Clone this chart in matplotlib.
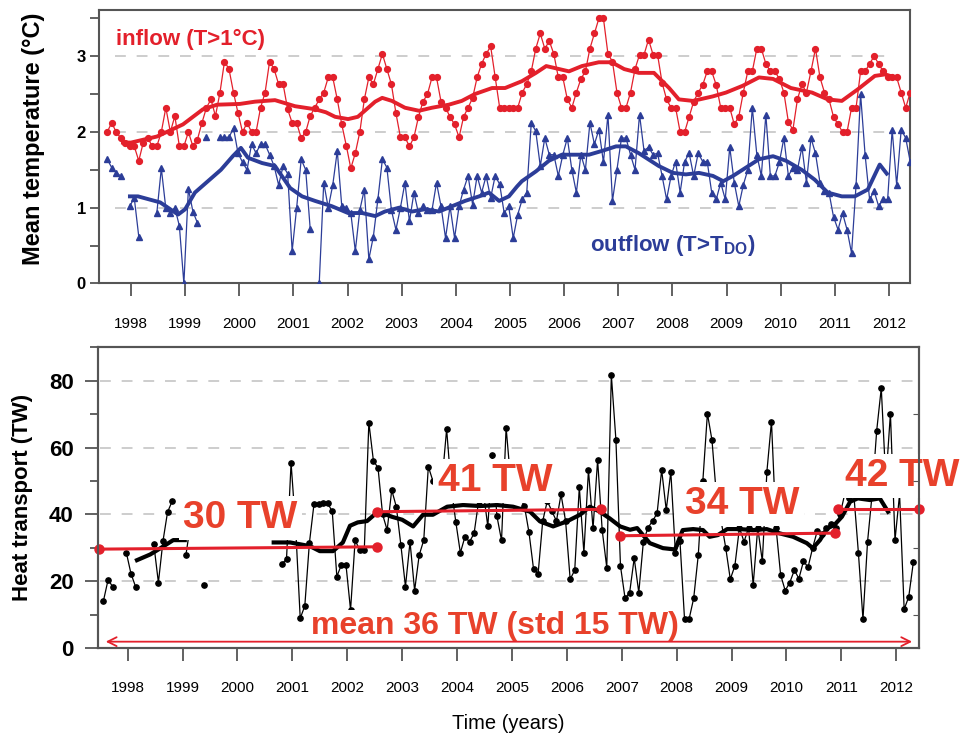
import numpy as np
import matplotlib
matplotlib.use("Agg")
import matplotlib.pyplot as plt
from matplotlib.ticker import MultipleLocator

plt.rcParams['font.family'] = ['Liberation Sans', 'DejaVu Sans']
plt.rcParams['mathtext.fontset'] = 'custom'
plt.rcParams['mathtext.rm'] = 'Liberation Sans:bold'
plt.rcParams['mathtext.bf'] = 'Liberation Sans:bold'

nan = np.nan
years = list(range(1998, 2013))

# monthly values, Jul 1997 .. May 2012
inflow = [2.0, 2.12, 2.0, 1.92, 1.86, 1.81,
          1.81, 1.62, 1.86, 1.92, 1.81, 1.81, 2.0, 2.32, 2.0, 2.21, 1.81, 1.81,
          2.0, 1.81, 1.9, 2.12, 2.32, 2.43, 2.21, 2.52, 2.93, 2.83, 2.52, 2.25,
          2.0, 2.12, 2.0, 2.0, 2.32, 2.52, 2.93, 2.83, 2.63, 2.63, 2.3, 2.12,
          2.12, 1.92, 2.0, 2.21, 2.32, 2.43, 2.52, 2.72, 2.72, 2.43, 2.1, 1.82,
          1.52, 1.72, 2.0, 2.43, 2.72, 2.63, 2.83, 3.03, 2.83, 2.63, 2.25, 1.93,
          1.93, 1.81, 1.93, 2.2, 2.4, 2.5, 2.72, 2.72, 2.4, 2.32, 2.2, 2.1,
          1.93, 2.2, 2.32, 2.45, 2.72, 2.9, 3.03, 3.13, 2.72, 2.32, 2.32, 2.32,
          2.32, 2.32, 2.52, 2.63, 2.8, 3.1, 3.3, 3.1, 3.2, 3.03, 2.72, 2.72,
          2.43, 2.32, 2.52, 2.7, 2.8, 3.1, 3.3, 3.5, 3.5, 3.03, 2.93, 2.52,
          2.32, 2.32, 2.52, 2.83, 3.02, 3.02, 3.22, 3.02, 3.02, 2.65, 2.43, 2.32,
          2.32, 2.0, 2.0, 2.2, 2.4, 2.52, 2.62, 2.8, 2.8, 2.62, 2.32, 2.32,
          2.32, 2.1, 2.2, 2.52, 2.8, 2.8, 3.1, 3.1, 2.9, 2.8, 2.8, 2.7,
          2.52, 2.13, 2.03, 2.43, 2.63, 2.52, 2.8, 3.1, 2.72, 2.52, 2.43, 2.2,
          2.1, 2.0, 2.0, 2.32, 2.32, 2.8, 2.8, 2.9, 3.0, 2.9, 2.8, 2.72,
          2.72, 2.72, 2.52, 2.32, 2.52]

outflow = [1.64, 1.53, 1.46, 1.42, nan, 1.02,
           1.13, 0.62, nan, nan, nan, 0.93, 1.52, 0.99, 0.93, 1.0, 0.76, 0.0,
           1.25, 0.95, 0.8, nan, 1.93, nan, nan, 1.93, 1.93, 1.93, 2.05, 1.72,
           1.6, 1.5, 1.84, 1.72, 1.84, 1.84, 1.7, 1.55, 1.3, 1.55, 1.45, 0.43,
           1.0, 1.64, 1.5, 0.72, nan, 0.0, 1.33, 1.0, 1.3, 1.75, 1.02, 1.0,
           0.93, 0.43, 0.97, 1.24, 0.32, 0.62, 1.11, 1.64, 1.53, 0.97, 0.71, 1.0,
           1.33, 0.82, 1.2, 0.93, 1.02, 0.97, 0.97, 1.33, 1.02, 0.6, 1.02, 0.6,
           1.02, 1.24, 1.42, 1.04, 1.42, 1.2, 1.42, 1.13, 1.42, 1.31, 0.93, 1.02,
           0.6, 0.91, 1.11, 1.2, 2.12, 2.01, 1.55, 1.92, 1.7, 1.7, 1.42, 1.7,
           1.92, 1.5, 1.2, 1.7, 1.5, 2.12, 1.84, 2.03, 1.6, 2.23, 1.09, 1.5,
           1.92, 1.92, 1.7, 1.5, 2.23, 1.75, 1.8, 1.7, 1.72, 1.42, 1.11, 1.42,
           1.61, 1.2, 1.61, 1.72, 1.42, 1.72, 1.61, 1.61, 1.2, 1.11, 1.33, 1.11,
           1.8, 1.33, 1.02, 1.3, 1.5, 2.32, 1.7, 1.42, 2.23, 1.42, 1.42, 1.6,
           1.92, 1.42, 1.53, 1.5, 1.8, 1.33, 1.92, 1.72, 1.33, 1.22, 1.2, 0.88,
           0.71, 0.93, 0.71, 0.4, 1.3, 2.5, 1.7, 1.11, 1.22, 1.02, 1.11, 1.11,
           2.03, 1.3, 2.03, 1.92, 1.61]

heat = [14.2, 20.4, 18.4, nan, nan, 28.5,
        22.3, 18.4, nan, nan, nan, 31, 19.6, 32, 40.7, 43.9, nan, nan,
        27.7, 37, nan, nan, 18.9, nan, nan, nan, nan, nan, nan, nan,
        nan, nan, nan, nan, nan, nan, nan, nan, nan, 25.2, 26.6, 55.4,
        36, 8.9, 12.6, 31.4, 43, 43, 43.3, 43.3, 40.9, 21.4, 24.9, 24.9,
        11.4, 32.3, 29.3, 29.3, 67.5, 56, 54, 40, 35.3, 47.3, 42.3, 30.8,
        18.4, 31.8, 17.2, 27.8, 32.3, 54.3, 50, 46, 50, 65.5, 48, 37.8,
        28.5, 33.3, 31.8, 34.3, 44, 47, 36.4, 57.7, 39.4, 32.2, 66, 50,
        47, 45, 42.5, 34.6, 23.6, 22.3, 38, 44, 41, 38, 46, 38,
        20.6, 23.3, 48.2, 28.5, 53.3, 35.8, 56.3, 35.3, 24.1, 81.7, 62.3, 24.5,
        14.9, 16.6, 26.9, 16.6, 31.8, 36, 38, 40.3, 53.3, 41.3, 52.8, 28.5,
        32, 8.6, 8.7, 14.9, 27.8, 50, 70.2, 62.2, 45, 38, 30, 20.6,
        24.6, 36, 31.8, 36, 18.9, 36, 26, 52.8, 67.8, 36, 21.9, 17.2,
        19.6, 23.3, 20.8, 26, 24.2, 30, 35, 34, 36, 37, 36, 40,
        46, 45, 46, 28.5, 8.6, 31.8, 46, 65.1, 77.8, 50, 70.2, 32.3,
        46, 11.6, 15.3, 25.6, nan]

# running means
red_smooth_t = [1997.85, 1998.0, 1998.48, 1998.96, 1999.33, 1999.59, 2000.01, 2000.29,
                2000.66, 2001.03, 2001.4, 2001.6, 2001.77, 2002.01, 2002.19, 2002.51,
                2002.64, 2002.82, 2003.06, 2003.32, 2003.56, 2003.87, 2004.11, 2004.35,
                2004.67, 2004.91, 2005.22, 2005.48, 2005.67, 2005.91, 2006.09, 2006.33,
                2006.64, 2006.88, 2007.11, 2007.38, 2007.66, 2007.94, 2008.12, 2008.38,
                2008.75, 2008.99, 2009.3, 2009.6, 2009.86, 2010.19, 2010.58, 2010.87,
                2011.13, 2011.42, 2011.74, 2011.93, 2012.11]
red_smooth_v = [1.86, 1.86, 1.94, 2.1, 2.3, 2.36, 2.37, 2.4,
                2.42, 2.34, 2.3, 2.26, 2.2, 2.17, 2.2, 2.4,
                2.45, 2.41, 2.32, 2.28, 2.32, 2.36, 2.41, 2.5,
                2.58, 2.58, 2.67, 2.78, 2.87, 2.83, 2.8, 2.87,
                2.92, 2.92, 2.83, 2.78, 2.78, 2.58, 2.43, 2.41,
                2.47, 2.52, 2.61, 2.72, 2.7, 2.58, 2.52, 2.43,
                2.41, 2.56, 2.74, 2.76, 2.72]

blue_smooth_t = [1997.98, 1998.13, 1998.54, 1998.87, 1999.0, 1999.18, 1999.42, 1999.66,
                 1999.88, 2000.03, 2000.16, 2000.42, 2000.66, 2000.94, 2001.16, 2001.4,
                 2001.71, 2002.01, 2002.27, 2002.51, 2002.69, 2002.95, 2003.19, 2003.43,
                 2003.69, 2003.93, 2004.17, 2004.43, 2004.61, 2004.8, 2004.98, 2005.13,
                 2005.22, 2005.48, 2005.72, 2005.96, 2006.22, 2006.46, 2006.7, 2006.96,
                 2007.14, 2007.38, 2007.75, 2008.01, 2008.25, 2008.49, 2008.75, 2008.94,
                 2009.12, 2009.36, 2009.6, 2009.86, 2010.1, 2010.39, 2010.63, 2010.87,
                 2011.13, 2011.37, 2011.61, 2011.83, 2011.96]
blue_smooth_v = [1.15, 1.15, 1.07, 0.91, 0.98, 1.2, 1.35, 1.5,
                 1.68, 1.79, 1.66, 1.59, 1.55, 1.26, 1.15, 1.09,
                 1.02, 0.93, 0.93, 0.89, 0.95, 1.0, 0.95, 0.98,
                 0.95, 1.02, 1.09, 1.15, 1.2, 1.09, 1.15, 1.28,
                 1.35, 1.48, 1.62, 1.7, 1.7, 1.7, 1.75, 1.81,
                 1.81, 1.72, 1.55, 1.46, 1.44, 1.46, 1.42, 1.35,
                 1.42, 1.53, 1.64, 1.68, 1.62, 1.5, 1.37, 1.2,
                 1.15, 1.15, 1.24, 1.57, 1.45]

black_smooth_t = [1998.17, 1998.41, 1998.59, 1998.83, 1999.04, nan,
                  2000.66, 2000.96, 2001.32, 2001.5, 2001.74, 2001.92, 2002.05, 2002.19,
                  2002.36, 2002.5, 2002.65, 2002.81, 2003.0, 2003.2, 2003.38, 2003.56,
                  2003.82, 2004.11, 2004.42, 2004.73, 2005.02, 2005.33, 2005.51, 2005.75,
                  2006.0, 2006.24, 2006.42, 2006.6, 2006.78, 2006.97, 2007.15, 2007.28,
                  2007.51, 2007.75, 2007.97, 2008.11, 2008.3, 2008.48, 2008.6, 2008.75,
                  2008.92, 2009.15, 2009.39, 2009.64, 2009.88, 2010.12, 2010.37, 2010.48,
                  2010.61, 2010.74, 2010.87, 2011.01, 2011.16, 2011.3, 2011.52, 2011.7,
                  2011.85]
black_smooth_v = [26.3, 28, 29.8, 32.3, 32.3, nan,
                  31.6, 31.6, 30.5, 29, 29, 31.6, 36.6, 37.6,
                  38, 40, 40.3, 39.3, 38.4, 36.4, 39.9, 39.9,
                  42.3, 42.8, 42.5, 42.8, 42.3, 40.8, 37.9, 36.4,
                  37.9, 39.9, 42.3, 40.8, 38.8, 36.4, 35.4, 35.9,
                  31.4, 29.9, 29.5, 35.3, 35.6, 35.3, 33.3, 33.8,
                  35.6, 35.6, 35.3, 35.6, 34.3, 33.3, 31.4, 29.9,
                  32.3, 35.8, 36.8, 39.3, 43.8, 44.8, 44.3, 44.8,
                  40.8]

# period means
period_start = [1997.48, 2002.54, 2006.97, 2010.94]
period_end = [2002.55, 2006.63, 2010.88, 2012.42]
period_v0 = [29.6, 40.8, 33.6, 41.6]
period_v1 = [30.3, 41.5, 34.4, 41.6]
period_labels = ["30 TW", "41 TW", "34 TW", "42 TW"]
label_t = [2000.05, 2004.69, 2009.19, 2012.1]
label_v = [38.9, 50.0, 43.1, 51.5]

red = '#e3202b'
blue = '#2c3d98'
orange = '#e8412b'
grid_c = '#c9c9c9'
spine_c = '#555555'

t = 1997.56 + np.arange(len(inflow)) / 12.0

fig = plt.figure(figsize=(9.66, 7.4), dpi=100)
ax1 = fig.add_axes([0.1025, 0.6169, 0.8395, 0.3696])
ax2 = fig.add_axes([0.1014, 0.1243, 0.8499, 0.4072])

# --- top panel: temperatures
ax1.hlines([1, 2, 3], 1997.7, 2011.95, colors=grid_c, linestyles=(0, (6, 6)), lw=1.3, zorder=0)
ax1.plot(t, inflow, '-o', color=red, lw=0.9, ms=4.2, zorder=3)
ax1.plot(t, outflow, '-^', color=blue, lw=0.9, ms=4.8, zorder=3)
ax1.plot(red_smooth_t, red_smooth_v, color=red, lw=2.8, zorder=4)
ax1.plot(blue_smooth_t, blue_smooth_v, color=blue, lw=2.8, zorder=4)
ax1.text(1997.73, 3.22, 'inflow (T>1°C)', color=red, fontsize=16, fontweight='bold', va='center')
ax1.text(2006.48, 0.5, r'outflow (T>T$_{\rm DO}$)', color=blue, fontsize=16, fontweight='bold', va='center')
ax1.set_xlim(1997.409, 2012.389)
ax1.set_ylim(0, 3.61)
ax1.set_xticks(years)
ax1.set_xticklabels([str(y) for y in years], fontsize=11)
ax1.set_yticks([0, 1, 2, 3])
ax1.set_yticklabels(['0', '1', '2', '3'], fontsize=12, fontweight='bold')
ax1.yaxis.set_minor_locator(MultipleLocator(0.5))
ax1.set_ylabel('Mean temperature (°C)', fontsize=17, fontweight='bold')
ax1.yaxis.set_label_coords(-0.066, 0.53)

# --- bottom panel: heat transport
ax2.hlines([20, 40, 60, 80], 1997.5, 2012.3, colors=grid_c, linestyles=(0, (6, 6)), lw=1.3, zorder=0)
ax2.plot(t, heat, '-o', color='black', lw=0.9, ms=3.8, zorder=3)
ax2.plot(black_smooth_t, black_smooth_v, color='black', lw=3, zorder=4)
for t0, t1, v0, v1 in zip(period_start, period_end, period_v0, period_v1):
    ax2.plot([t0, t1], [v0, v1], '-o', color=red, lw=2.2, ms=6.5, zorder=6, clip_on=False)
for lt, lv, lab in zip(label_t, label_v, period_labels):
    ax2.text(lt, lv, lab, ha='center', va='center', fontsize=28, fontweight='bold', color=orange,
             zorder=5, bbox=dict(fc='white', ec='none', pad=3))
ax2.annotate('', xy=(1997.55, 1.9), xytext=(2012.34, 1.9),
             arrowprops=dict(arrowstyle='<->', color=red, lw=1.3, mutation_scale=16), zorder=6)
ax2.text(2004.69, 6.5, 'mean 36 TW (std 15 TW)', ha='center', va='center', fontsize=23,
         fontweight='bold', color=orange, zorder=5, bbox=dict(fc='white', ec='none', pad=1))
ax2.set_xlim(1997.459, 2012.413)
ax2.set_ylim(0, 90.2)
ax2.set_xticks(years)
ax2.set_xticklabels([str(y) for y in years], fontsize=11)
ax2.set_yticks([0, 20, 40, 60, 80])
ax2.set_yticklabels(['0', '20', '40', '60', '80'], fontsize=16, fontweight='bold')
ax2.yaxis.set_minor_locator(MultipleLocator(10))
ax2.set_ylabel('Heat transport (TW)', fontsize=16, fontweight='bold')
ax2.yaxis.set_label_coords(-0.079, 0.5)
ax2.set_xlabel('Time (years)', fontsize=14.5)
ax2.xaxis.set_label_coords(0.4994, -0.22)

axr = ax2.twinx()
axr.set_ylim(0, 90.2)
axr.set_yticks([10, 30, 50, 70])
axr.set_yticklabels([])
axr.tick_params(direction='in', length=4, color=spine_c)

for ax in (ax1, ax2, axr):
    for s in ax.spines.values():
        s.set_color(spine_c)
        s.set_linewidth(1.5)
for ax in (ax1, ax2):
    ax.tick_params(which='both', color=spine_c, width=1.3)
    ax.tick_params(axis='x', length=9, pad=15)
ax1.tick_params(axis='y', which='both', length=6.5, pad=3)
ax2.tick_params(axis='y', which='major', length=9.5, pad=8)
ax2.tick_params(axis='y', which='minor', length=5.5)

fig.savefig('out.png', dpi=100)
